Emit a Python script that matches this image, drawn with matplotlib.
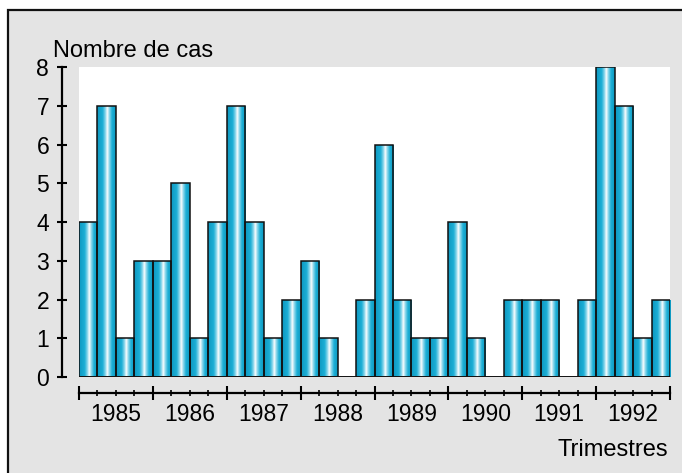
import numpy as np
import matplotlib.pyplot as plt
import matplotlib.transforms as mtransforms
from matplotlib.colors import LinearSegmentedColormap
from matplotlib.patches import Rectangle

plt.rcParams['font.family'] = ['Liberation Sans', 'DejaVu Sans']

years = [1985, 1986, 1987, 1988, 1989, 1990, 1991, 1992]
# nombre de cas par trimestre (4 par annee)
cases = [4, 7, 1, 3,
         3, 5, 1, 4,
         7, 4, 1, 2,
         3, 1, 0, 2,
         6, 2, 1, 1,
         4, 1, 0, 2,
         2, 2, 0, 2,
         8, 7, 1, 2]

W, H = 682, 473
fig = plt.figure(figsize=(W / 100, H / 100), dpi=100)
fig.patch.set_facecolor('white')
# fond gris avec cadre
fig.patches.append(Rectangle((8 / W, -0.1), 1.2, (H - 10) / H + 0.1,
                             transform=fig.transFigure, facecolor='#e4e4e4',
                             edgecolor='#111111', lw=1.6, zorder=-5))

ax = fig.add_axes([79 / W, 96 / H, 591 / W, 310 / H])
ax.set_facecolor('white')

x = np.arange(len(cases))
bars = ax.bar(x, cases, width=1, align='edge', color='#14a3ca',
              edgecolor='none', zorder=2)

# degrade cyan / blanc dans chaque barre
cmap = LinearSegmentedColormap.from_list(
    'cyl', [(0, '#0e98c0'), (0.3, '#1cafd6'), (0.45, '#8fd8ec'), (0.55, '#ffffff'),
            (0.65, '#8fd8ec'), (0.8, '#1cafd6'), (1, '#0e98c0')])
grad = np.linspace(0, 1, 64)[None, :]
for b in bars:
    if b.get_height() > 0:
        im = ax.imshow(grad, extent=[b.get_x(), b.get_x() + b.get_width(), 0, b.get_height()],
                       cmap=cmap, aspect='auto', interpolation='bilinear', zorder=2)
        im.set_clip_path(b)
ax.bar(x, cases, width=1, align='edge', fill=False, edgecolor='#111111', lw=1.1, zorder=3)
ax.axhline(0, color='#111111', lw=1.3, zorder=3)

ax.set_xlim(0, len(cases))
ax.set_ylim(0, 8)

for s in ['top', 'right']:
    ax.spines[s].set_visible(False)
ax.spines['left'].set_position(('outward', 12))
ax.spines['left'].set_bounds(0, 8)
ax.spines['left'].set_linewidth(1.6)
ax.spines['bottom'].set_position(('outward', 11.5))
ax.spines['bottom'].set_linewidth(1.6)

ax.set_yticks(range(9))
ax.tick_params(axis='y', direction='inout', length=7, width=1.5, labelsize=16.5, pad=6)

ax.set_xticks(range(0, len(cases) + 1, 4))
ax.set_xticklabels([])
ax.set_xticks(range(len(cases) + 1), minor=True)
ax.tick_params(axis='x', which='major', direction='inout', length=10, width=1.5)
ax.tick_params(axis='x', which='minor', direction='inout', length=5, width=1.2)

trans = mtransforms.blended_transform_factory(ax.transData, fig.transFigure)
for i, yr in enumerate(years):
    ax.text(4 * i + 2, (H - 421) / H, str(yr), transform=trans, ha='center',
            va='baseline', fontsize=16.5)

fig.text(53 / W, (H - 57) / H, 'Nombre de cas', fontsize=17, va='baseline')
fig.text(668 / W, (H - 456) / H, 'Trimestres', fontsize=17, ha='right', va='baseline')

fig.savefig('out.png', dpi=100)
